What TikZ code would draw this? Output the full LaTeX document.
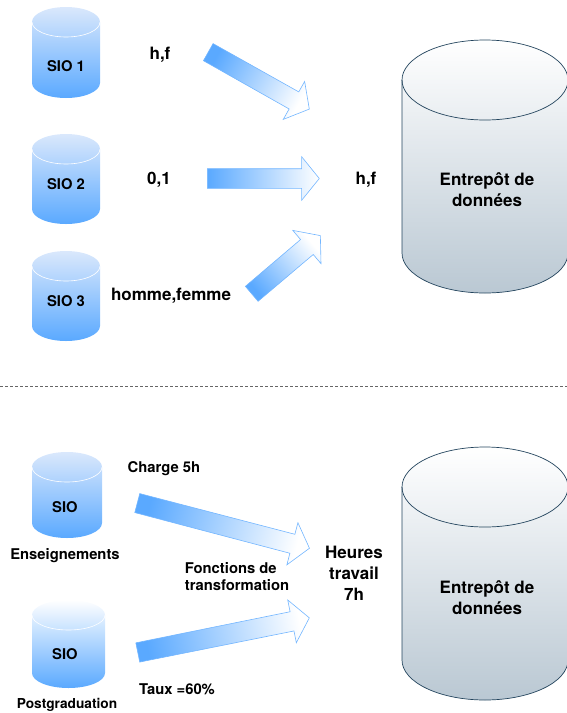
\documentclass[tikz,border=0pt]{standalone}
\usepackage{fontspec}
\setmainfont{TeX Gyre Heros}
\usetikzlibrary{shapes.arrows}
\definecolor{siotop}{HTML}{DAE8FC}
\definecolor{siobot}{HTML}{5AA9FF}
\definecolor{dwhline}{HTML}{23445D}
\definecolor{dwhbot}{HTML}{BAC8D3}
\tikzset{
    small/.style={font=\bfseries\fontsize{14.8}{17}\selectfont,align=center,inner sep=0pt},
    large/.style={font=\bfseries\fontsize{17}{21}\selectfont,align=center,inner sep=0pt},
    flow/.style={single arrow,draw=siobot!85,line width=0.6pt,inner xsep=0pt,inner ysep=9.5pt,anchor=tail,
        single arrow head extend=12pt,single arrow tip angle=102,shape border rotate=0,
        left color=siobot,right color=white}
}
% x y rx ry height topcolour
\newcommand{\siocyl}[6]{
    \shade[top color=#6,bottom color=siobot,draw=none] (#1-#3,#2) arc[start angle=180,end angle=360,x radius=#3,y radius=#4]
        -- ++(0,#5) arc[start angle=0,end angle=180,x radius=#3,y radius=#4] -- cycle;
    \draw[white,line width=0.6pt] (#1-#3,#2) arc[start angle=180,end angle=0,x radius=#3,y radius=#4];
}
\newcommand{\dwhcyl}[2]{
    \shade[top color=white,bottom color=dwhbot,draw=dwhline,line width=0.7pt] (485-83,#1) arc[start angle=180,end angle=360,x radius=83,y radius=40]
        -- (485+83,#2) arc[start angle=0,end angle=180,x radius=83,y radius=40] -- cycle;
    \draw[dwhline,line width=0.7pt] (485-83,#1) arc[start angle=180,end angle=0,x radius=83,y radius=40];
}
\begin{document}
\begin{tikzpicture}[x=1pt,y=-1pt]
    \useasboundingbox (0,0) rectangle (567,713);
    \begin{scope}
    \clip (0,0) rectangle (567,713);
    \siocyl{66}{22}{34}{15}{61}{siotop}
    \siocyl{66}{149}{34}{15}{60}{siotop}
    \siocyl{66}{266}{34}{15}{60}{siotop}
    \siocyl{67}{467}{35}{15}{56}{siotop}
    \siocyl{68.5}{615}{36.5}{15}{58}{white}
    \dwhcyl{80}{253}
    \dwhcyl{487}{660}
    \end{scope}

    \node[small] (sioa) at (66,66.5) {SIO 1};
    \node[small] (siob) at (66,184.5) {SIO 2};
    \node[small] (sioc) at (66,301.5) {SIO 3};
    \node[small] (siod) at (65,507) {SIO};
    \node[small] (sioe) at (65,654) {SIO};
    \node[small] (ens) at (65,555.5) {Enseignements};
    \node[small,font=\bfseries\fontsize{13.7}{17}\selectfont] (post) at (67,705) {Postgraduation};
    \node[large] (hfa) at (160,54.5) {h,f};
    \node[large] (bin) at (159,180) {0,1};
    \node[large] (hf) at (171,296) {homme,femme};
    \node[large] (hfb) at (366,179.5) {h,f};
    \node[large] (dwha) at (487,189.5) {Entrepôt de\\données};
    \node[large] (dwhb) at (487,597.5) {Entrepôt de\\données};
    \node[small] (charge) at (164,469) {Charge 5h};
    \node[small,align=left] (fct) at (237,576.5) {Fonctions de\\transformation};
    \node[small] (taux) at (177,689.5) {Taux =60\%};
    \node[large] (heures) at (354,573.5) {Heures\\travail\\7h};

    \node[flow,minimum height=116pt,rotate=-29.4,shading angle=60.6] (fa) at (208,52) {};
    \node[flow,minimum height=112pt] (fb) at (207,178.5) {};
    \node[flow,minimum height=90pt,rotate=40.3,shading angle=130.3] (fc) at (251.5,294) {};
    \node[flow,minimum height=178pt,rotate=-14.7,shading angle=75.3] (fd) at (137,503) {};
    \node[flow,minimum height=175pt,rotate=11.4,shading angle=101.4] (fe) at (137.5,652.5) {};

    \draw[dash pattern=on 3pt off 2pt,line width=0.8pt,black!60] (0,386) -- (567,386);
\end{tikzpicture}
\end{document}
